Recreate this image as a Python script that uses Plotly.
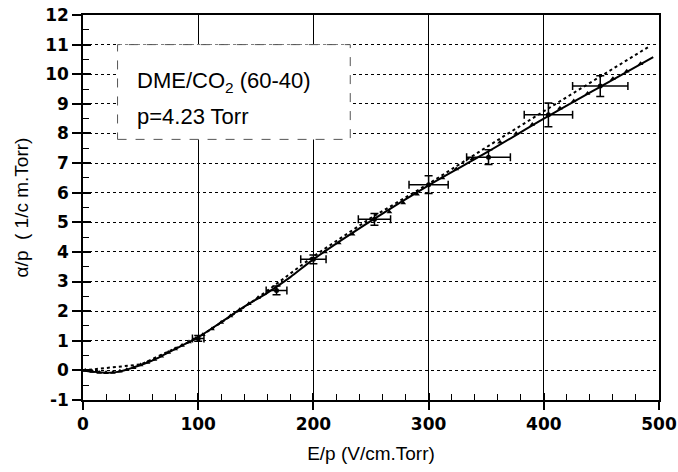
import plotly.graph_objects as go

# Fit curve (solid)
fit_x = [0, 10, 20, 30, 40, 50, 60, 70, 80, 90, 100, 120, 140, 160, 180, 200, 250, 300, 350, 400, 450, 495]
fit_y = [0, -0.05, -0.08, -0.05, 0.05, 0.18, 0.33, 0.52, 0.72, 0.92, 1.12, 1.63, 2.15, 2.62, 3.15, 3.75, 5.05, 6.25, 7.35, 8.5, 9.6, 10.58]

# Second (dotted) curve
dot_x = [0, 50, 100, 150, 200, 250, 300, 330, 365, 400, 450, 492]
dot_y = [0, 0.2, 1.1, 2.4, 3.85, 5.15, 6.3, 7.05, 7.9, 8.75, 9.95, 10.95]

# Measured points with error bars
err_x = [100, 168, 200, 253, 300, 352, 404, 449]
err_y = [1.08, 2.7, 3.75, 5.1, 6.27, 7.2, 8.63, 9.6]
err_dx = [5, 9, 11, 14, 17, 19, 21, 24]
err_dy = [0.1, 0.15, 0.15, 0.2, 0.3, 0.25, 0.4, 0.35]

# Dense measurement points
pts_x = [2, 8, 14, 20, 26, 32, 38, 44, 50, 56, 62, 68, 74, 80, 86, 92, 98, 104, 112, 120, 128, 136, 144, 152,
         210, 222, 234, 266, 278, 290, 312, 324, 338, 362, 376, 390, 414, 426, 438, 460, 472, 484]
pts_y = [0.0, -0.04, -0.07, -0.08, -0.07, -0.03, 0.02, 0.09, 0.18, 0.27, 0.37, 0.48, 0.6, 0.72, 0.84, 0.96, 1.08, 1.2, 1.4, 1.62, 1.84, 2.05, 2.25, 2.45,
         4.0, 4.3, 4.6, 5.35, 5.65, 5.95, 6.5, 6.8, 7.15, 7.7, 8.0, 8.3, 8.85, 9.1, 9.35, 9.85, 10.1, 10.35]

x_ticks = [0, 100, 200, 300, 400, 500]
x_ticktext = ["0", "100", "200", "300", "400", "500"]
y_ticks = [-1, 0, 1, 2, 3, 4, 5, 6, 7, 8, 9, 10, 11, 12]
y_ticktext = ["-1", "0", "1", "2", "3", "4", "5", "6", "7", "8", "9", "10", "11", "12"]

fig = go.Figure()

fig.add_trace(go.Scatter(x=dot_x, y=dot_y, mode="lines", line=dict(color="black", width=2, dash="dot"),
                         showlegend=False))
fig.add_trace(go.Scatter(x=fit_x, y=fit_y, mode="lines", line=dict(color="black", width=2, shape="spline"),
                         showlegend=False))
fig.add_trace(go.Scatter(x=pts_x, y=pts_y, mode="markers",
                         marker=dict(color="black", size=5, symbol="triangle-up"), showlegend=False))
fig.add_trace(go.Scatter(x=err_x, y=err_y, mode="markers",
                         marker=dict(color="black", size=5),
                         error_x=dict(type="data", array=err_dx, color="black", thickness=1.5, width=4),
                         error_y=dict(type="data", array=err_dy, color="black", thickness=1.5, width=4),
                         showlegend=False))
# invisible trace for inner tick axes
fig.add_trace(go.Scatter(x=[0], y=[0], xaxis="x2", yaxis="y2", mode="markers",
                         marker=dict(opacity=0), showlegend=False, hoverinfo="skip"))

tickfont = dict(family="DejaVu Sans", size=17, color="black", weight="bold")
titlefont = dict(size=19, family="Liberation Sans, Arial", color="black")

fig.update_layout(
    width=678, height=472,
    margin=dict(l=83, r=19, t=15, b=72),
    paper_bgcolor="white", plot_bgcolor="white",
    font=dict(family="Liberation Sans, Arial", color="black"),
    xaxis=dict(range=[0, 500], tickmode="array", tickvals=x_ticks, ticktext=x_ticktext,
               ticks="outside", ticklen=8, tickwidth=1.5, tickcolor="black",
               showline=True, linecolor="black", linewidth=1.5, mirror=True, automargin=False,
               showgrid=True, gridcolor="black", gridwidth=1.2, zeroline=False,
               tickfont=tickfont,
               title=dict(text="E/p (V/cm.Torr)", font=titlefont, standoff=14)),
    yaxis=dict(range=[-1, 12], tickmode="array", tickvals=y_ticks, ticktext=y_ticktext,
               ticks="outside", ticklen=9, tickwidth=1.5, tickcolor="black",
               showline=True, linecolor="black", linewidth=1.5, mirror=True, automargin=False,
               showgrid=True, gridcolor="black", gridwidth=1, griddash="dot", zeroline=False,
               tickfont=tickfont,
               title=dict(text="α/p  ( 1/c m.Torr)", font=titlefont, standoff=12)),
    xaxis2=dict(range=[0, 500], overlaying="x", tick0=x_ticks[0], dtick=x_ticks[1] - x_ticks[0],
                ticks="inside", ticklen=7, tickwidth=1.5, automargin=False,
                tickcolor="black", showticklabels=False, showgrid=False, zeroline=False, showline=False,
                minor=dict(dtick=20, ticks="inside", ticklen=6, tickcolor="black", tickwidth=1, showgrid=False)),
    yaxis2=dict(range=[-1, 12], overlaying="y", tick0=y_ticks[0], dtick=y_ticks[1] - y_ticks[0],
                ticks="inside", ticklen=8, tickwidth=1.5, automargin=False,
                tickcolor="black", showticklabels=False, showgrid=False, zeroline=False, showline=False,
                minor=dict(dtick=0.5, ticks="inside", ticklen=6, tickcolor="black", tickwidth=1, showgrid=False)),
)

# Label box
fig.add_shape(type="rect", x0=30, x1=232, y0=7.8, y1=11.0, xref="x", yref="y",
              line=dict(color="#555555", width=1, dash="dash"), fillcolor="white", layer="above")
fig.add_annotation(x=45, y=9.74, xref="x", yref="y", text="DME/CO<sub>2</sub> (60-40)", showarrow=False,
                   xanchor="left", yanchor="middle", font=dict(size=22, family="Liberation Sans, Arial", color="black"))
fig.add_annotation(x=45, y=8.56, xref="x", yref="y", text="p=4.23 Torr", showarrow=False,
                   xanchor="left", yanchor="middle", font=dict(size=22, family="Liberation Sans, Arial", color="black"))

fig.write_html("out.html", config={"displayModeBar": False},
               post_script="document.body.style.margin='0';document.body.style.overflow='hidden';")
